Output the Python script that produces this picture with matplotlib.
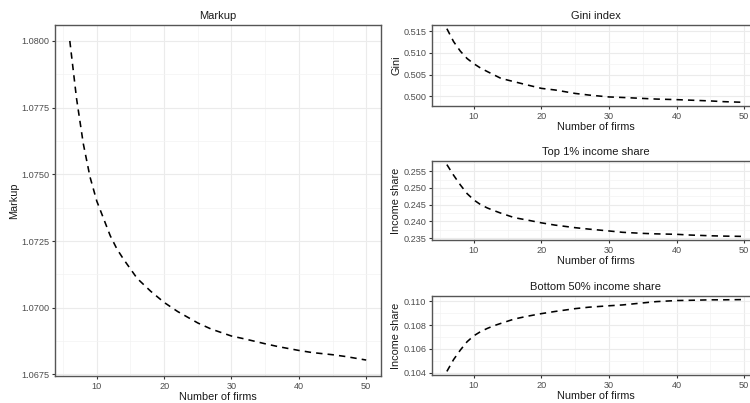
import matplotlib
matplotlib.use("Agg")
import matplotlib.pyplot as plt
from matplotlib.ticker import MultipleLocator, FormatStrFormatter

plt.rcParams["font.family"] = ["Liberation Sans", "DejaVu Sans"]

# number of firms and the simulated outcomes
firms = [6, 7, 8, 9, 10, 11, 12, 13, 14, 16, 18, 20, 22, 25, 27, 30,
         32, 35, 37, 40, 42, 45, 47, 50]
markup = [1.08000, 1.07784, 1.07615, 1.07490, 1.07400, 1.07335, 1.07270,
          1.07220, 1.07181, 1.07110, 1.07062, 1.07020, 1.06986, 1.06943,
          1.06920, 1.06894, 1.06883, 1.06865, 1.06854, 1.06840, 1.06832,
          1.06824, 1.06817, 1.06804]
gini = [0.51560, 0.51260, 0.51040, 0.50870, 0.50750, 0.50650, 0.50569,
        0.50491, 0.50413, 0.50334, 0.50257, 0.50182, 0.50145, 0.50065,
        0.50028, 0.49984, 0.49972, 0.49950, 0.49935, 0.49922, 0.49910,
        0.49892, 0.49875, 0.49860]
top1 = [0.25700, 0.25380, 0.25090, 0.24830, 0.24640, 0.24500, 0.24400,
        0.24320, 0.24245, 0.24110, 0.24035, 0.23955, 0.23888, 0.23810,
        0.23768, 0.23712, 0.23672, 0.23640, 0.23625, 0.23612, 0.23590,
        0.23568, 0.23558, 0.23549]
bottom50 = [0.10410, 0.10510, 0.10590, 0.10660, 0.10710, 0.10745, 0.10772,
            0.10795, 0.10814, 0.10851, 0.10875, 0.10896, 0.10914, 0.10938,
            0.10950, 0.10962, 0.10969, 0.10986, 0.10997, 0.11006, 0.11008,
            0.11012, 0.11012, 0.11014]

W, H = 750, 403


def box(x0, y0, x1, y1):
    # pixel box (top-left origin) -> figure fraction
    return [x0 / W, 1 - y1 / H, (x1 - x0) / W, (y1 - y0) / H]


def expand(vals, frac=0.05):
    lo, hi = min(vals), max(vals)
    pad = (hi - lo) * frac
    return lo - pad, hi + pad


def panel(ax, y, title, ylabel, step, fmt):
    ax.plot(firms, y, color="black", lw=1.15, dashes=(4, 3.2))
    ax.set_xlim(*expand(firms))
    ax.set_ylim(*expand(y))
    ax.xaxis.set_major_locator(MultipleLocator(10))
    ax.xaxis.set_minor_locator(MultipleLocator(5))
    ax.yaxis.set_major_locator(MultipleLocator(step))
    ax.yaxis.set_minor_locator(MultipleLocator(step / 2))
    ax.yaxis.set_major_formatter(FormatStrFormatter(fmt))
    ax.grid(True, which="major", color="#EBEBEB", lw=0.8)
    ax.grid(True, which="minor", color="#F3F3F3", lw=0.5)
    ax.set_axisbelow(True)
    for s in ax.spines.values():
        s.set_color("#555555")
        s.set_linewidth(1.0)
    ax.tick_params(which="major", length=2.5, width=0.8, color="#333333",
                   labelsize=6.6, labelcolor="#4D4D4D", pad=1.5)
    ax.tick_params(which="minor", length=0)
    ax.set_title(title, fontsize=8, color="#1A1A1A", pad=4)
    ax.set_xlabel("Number of firms", fontsize=7.8, color="#1A1A1A", labelpad=1)
    ax.set_ylabel(ylabel, fontsize=7.8, color="#1A1A1A", labelpad=1.5)


fig = plt.figure(figsize=(7.5, 4.03), dpi=100)

ax0 = fig.add_axes(box(55, 25, 381, 376))
panel(ax0, markup, "Markup", "Markup", 0.0025, "%.4f")

ax1 = fig.add_axes(box(432, 25, 759, 106))
panel(ax1, gini, "Gini index", "Gini", 0.005, "%.3f")

ax2 = fig.add_axes(box(432, 161, 759, 240))
panel(ax2, top1, "Top 1% income share", "Income share", 0.005, "%.3f")

ax3 = fig.add_axes(box(432, 296, 759, 375))
panel(ax3, bottom50, "Bottom 50% income share", "Income share", 0.002, "%.3f")

fig.savefig("out.png", dpi=100)
